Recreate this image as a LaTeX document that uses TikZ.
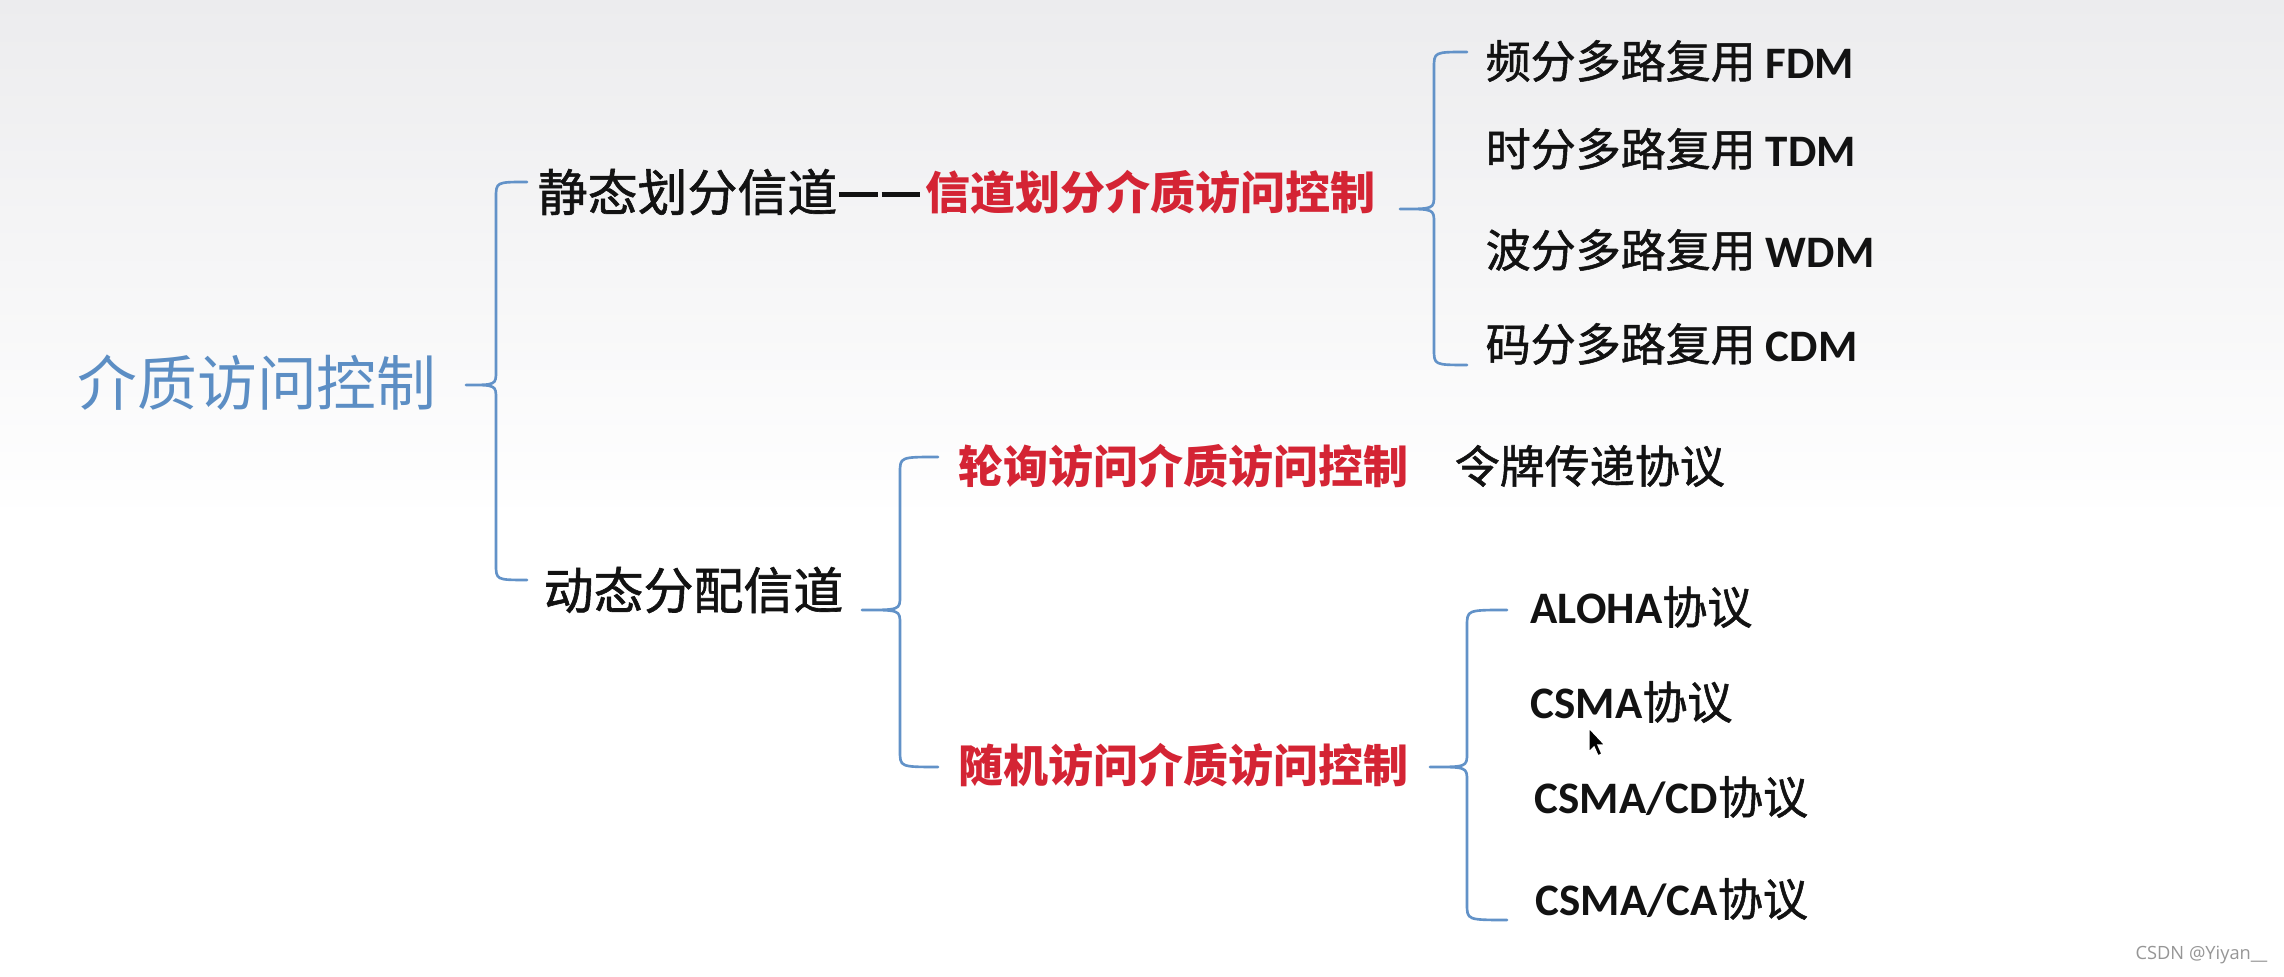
\documentclass[tikz,border=0pt]{standalone}
\usepackage{fontspec}
\setmainfont{Carlito}
\newfontfamily\cjk{Noto Sans CJK SC}
\newfontfamily\cjkm[FakeBold=1.2]{Noto Sans CJK SC}
\newfontfamily\wmfont{Open Sans}
\definecolor{rootblue}{RGB}{92,142,196}
\definecolor{bracecol}{RGB}{98,146,200}
\definecolor{macred}{RGB}{212,36,52}
\definecolor{txtblack}{RGB}{18,18,18}
\definecolor{bgtop}{RGB}{236,236,238}
\definecolor{wmgray}{RGB}{150,150,150}
\newcommand{\lat}[1]{{\rmfamily\bfseries #1}}
\newcommand{\dashbar}{\rule[4.0pt]{10.9pt}{1.5pt}}
% X T B C P E : vertical x, top y, bottom y, cusp y, tip x, arm end x
\newcommand{\BraceL}[6]{%
  \draw[brace] (#6,#2) .. controls (#1,#2) .. (#1,#2+16) -- (#1,#4-14)
    .. controls (#1,#4) .. (#5,#4) .. controls (#1,#4) .. (#1,#4+14)
    -- (#1,#3-16) .. controls (#1,#3) .. (#6,#3);}
\tikzset{
  brace/.style={draw=bracecol, line width=0.75pt, line cap=round, line join=round},
  lbl/.style={inner sep=0pt, anchor=west, text=txtblack, font=\cjkm\fontsize{12.8}{15}\selectfont},
  lbltwo/.style={lbl, font=\cjkm\fontsize{14.2}{17}\selectfont},
  redlbl/.style={lbl, text=macred, font=\cjk\bfseries\fontsize{12.8}{15}\selectfont},
  rootlbl/.style={lbl, text=rootblue, font=\cjk\fontsize{17}{20}\selectfont},
}
\begin{document}
\begin{tikzpicture}[x=0.01cm, y=-0.01cm]
\useasboundingbox (0,0) rectangle (2284,977);
\fill[top color=bgtop, bottom color=white] (0,0) rectangle (2284,520);
\fill[white] (0,520) rectangle (2284,977);

\node[rootlbl] (root) at (77,383) {介质访问控制};
\node[lbltwo] (static) at (537,192) {静态划分信道\hspace{0.6pt}\dashbar\hspace{1.1pt}\dashbar};
\node[redlbl] (chmac) at (925,192) {信道划分介质访问控制};
\node[lbltwo] (dynamic) at (543,590) {动态分配信道};

\node[lbl] (fdm) at (1485,61) {频分多路复用 \lat{FDM}};
\node[lbl] (tdm) at (1485,149) {时分多路复用 \lat{TDM}};
\node[lbl] (wdm) at (1485,250) {波分多路复用 \lat{WDM}};
\node[lbl] (cdm) at (1485,344) {码分多路复用 \lat{CDM}};

\node[redlbl] (poll) at (958,466) {轮询访问介质访问控制};
\node[lbl] (token) at (1454,466) {令牌传递协议};
\node[redlbl] (rand) at (958,765) {随机访问介质访问控制};

\node[lbl] (aloha) at (1530,607) {\lat{ALOHA}协议};
\node[lbl] (csma) at (1530,702) {\lat{CSMA}协议};
\node[lbl] (cd) at (1534,797) {\lat{CSMA/CD}协议};
\node[lbl] (ca) at (1535,899) {\lat{CSMA/CA}协议};

\BraceL{496}{182}{580}{385}{466}{527}
\BraceL{1434}{52}{365}{209}{1400}{1467}
\BraceL{900}{457}{767}{610}{862}{938}
\BraceL{1467}{610}{920}{767}{1430}{1507}

\filldraw[fill=black, draw=white, line width=0.4pt] (1589,728) -- (1589,752) -- (1594,747) -- (1598,756) -- (1602,754) -- (1598,745) -- (1605,745) -- cycle;

\node[anchor=east, inner sep=0pt, text=wmgray, font=\wmfont\fontsize{5.2}{6}\selectfont] (wm) at (2268,955) {CSDN @Yiyan\_\_};
\end{tikzpicture}
\end{document}
